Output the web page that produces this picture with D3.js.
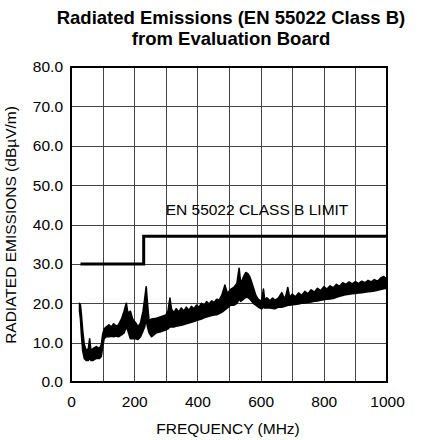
<!DOCTYPE html>
<html><head><meta charset="utf-8">
<script src="https://cdn.jsdelivr.net/npm/d3@7/dist/d3.min.js"></script>
<style>body{margin:0;background:#fff}svg{display:block}text{font-family:"Liberation Sans",Arial,sans-serif;fill:#000}</style>
</head><body><svg id="c" width="436" height="440"></svg>
<script>
const titleLines = ["Radiated Emissions (EN 55022 Class B)", "from Evaluation Board"];
const xTicks = [0, 200, 400, 600, 800, 1000];
const xGrid = [0,100,200,300,400,500,600,700,800,900,1000];
const yTicks = [0,10,20,30,40,50,60,70,80];
const xLabel = "FREQUENCY (MHz)";
const yLabel = "RADIATED EMISSIONS (dBµV/m)";
const limitLabel = "EN 55022 CLASS B LIMIT";
const limitFreq = [30, 230, 230, 1000];
const limitLevel = [30, 30, 37, 37];
const freq = [
  27,30,33,37,42,48,55,59,63,70,80,90,96,100,105,112,120,128,135,143,150,160,168,175,180,188,195,205,212,220,228,233,238,242,247,
  255,270,285,300,307,313,318,326,333,341,349,357,365,373,381,389,397,405,413,421,429,437,445,453,461,469,477,487,
  495,505,515,525,532,537,545,553,560,567,577,585,593,603,609,613,620,630,638,645,655,660,667,675,680,686,692,
  700,710,720,730,740,750,760,770,780,790,800,810,820,830,840,850,860,870,880,890,900,910,920,930,940,950,960,970,980,990,1000];
const emisLo = [
  18,16,12,8,6,5.5,5.5,6,5.5,5.5,6,6,6.5,9,11,11.5,11.5,11.6,11.5,11.7,11.5,12,12.5,14,13,11,11,11,10.8,11.5,13,14,16,14,12.5,
  11.5,12.5,12.8,13.2,13.5,14,14,14,14.2,14.3,14.4,14.6,14.8,15,15.2,15.4,15.6,15.8,16,16.3,16.5,16.7,16.9,17,17.1,17.4,17.7,18.3,
  18.8,19.5,19.5,20,21,20.5,21,21.5,21.5,21,20,19.5,19,18.6,19,18.8,18.8,18.8,18.7,18.6,19,19,19,19.2,19.3,19.5,19.5,
  19.6,19.7,19.8,20,20.1,20.2,20.3,20.5,20.6,20.8,20.9,21,21.1,21.2,21.5,21.8,22,22.2,22.3,22.4,22.5,22.6,22.7,22.8,22.9,23,23.1,23.3,23.5,23.7,23.8];
const emisHi = [
  20,19.5,17,13,9.5,8,8.5,11,8,8.5,9,8.5,9.5,12,13.5,14,14.5,14,14.8,14.2,14.5,16,18,20,17.5,18,16,15,14,15,18,21,24.2,20,15.5,
  16,16.2,16.6,17,18,21.3,18.5,17.6,18.6,17.8,18.8,18,19,18.2,19.2,18.6,19.5,19,20,19.4,20.4,19.8,20.6,20.2,21,20.8,22,24.6,
  22.5,23.5,24,25,28.9,25,26.5,27.8,27.5,26.5,24,22,21,20.5,23.6,20.8,21.4,20.6,21.3,20.8,21.2,21.8,22.7,21.2,21.9,24,21.5,
  22.3,21.6,22.6,22,23,22.4,23.4,22.8,23.8,23.2,24.2,23.6,24.4,23.9,24.8,24.3,25.2,24.8,25.4,24.9,25.5,25,25.6,25.2,25.8,25.4,26,25.6,26.4,26.8,26];

const svg = d3.select("#c");
const L=71,R=387,T=67,B=382;
const x = d3.scaleLinear().domain([0,1000]).range([L,R]);
const y = d3.scaleLinear().domain([0,80]).range([B,T]);

svg.selectAll("text.title").data(titleLines).enter().append("text")
  .attr("class","title")
  .attr("x",231).attr("y",(d,i)=>24+i*21).attr("text-anchor","middle")
  .style("font-weight","bold").style("font-size","18.5px").text(d=>d);

const g = svg.append("g");
g.selectAll("line.vg").data(xGrid).enter().append("line")
  .attr("x1",d=>Math.round(x(d))+0.5).attr("x2",d=>Math.round(x(d))+0.5).attr("y1",T).attr("y2",B)
  .attr("stroke","#444").attr("stroke-width",1);
g.selectAll("line.hg").data(yTicks).enter().append("line")
  .attr("y1",d=>Math.round(y(d))+0.5).attr("y2",d=>Math.round(y(d))+0.5).attr("x1",L).attr("x2",R)
  .attr("stroke","#444").attr("stroke-width",1);

const pts = freq.map((f,i)=>({f,lo:emisLo[i],hi:emisHi[i]}));
g.append("path").datum(pts)
  .attr("d",d3.area().x(d=>x(d.f)).y0(d=>y(d.lo)).y1(d=>y(d.hi)))
  .attr("fill","#000").attr("stroke","#000").attr("stroke-width",1.6).attr("stroke-linejoin","round");

const lim = limitFreq.map((f,i)=>[f,limitLevel[i]]);
g.append("path").datum(lim).attr("d",d3.line().x(d=>x(d[0])).y(d=>y(d[1])))
  .attr("fill","none").attr("stroke","#000").attr("stroke-width",3);

g.append("text").attr("x",257).attr("y",215).attr("text-anchor","middle").style("font-size","15.5px").text(limitLabel);

g.append("rect").attr("x",L).attr("y",T).attr("width",R-L).attr("height",B-T)
  .attr("fill","none").attr("stroke","#000").attr("stroke-width",2);

const xa = svg.append("g").attr("transform",`translate(0,${B})`)
  .call(d3.axisBottom(x).tickValues(xTicks).tickSize(0).tickPadding(14).tickFormat(d3.format("d")));
xa.select(".domain").remove();
xa.selectAll("text").style("font-size","15.5px").style("font-family","Liberation Sans, Arial, sans-serif");

const ya = svg.append("g").attr("transform",`translate(${L},0)`)
  .call(d3.axisLeft(y).tickValues(yTicks).tickSize(0).tickPadding(8).tickFormat(d3.format(".1f")));
ya.select(".domain").remove();
ya.selectAll("text").style("font-size","15.5px").style("font-family","Liberation Sans, Arial, sans-serif");

svg.append("text").attr("x",228).attr("y",434).attr("text-anchor","middle").style("font-size","15.5px").text(xLabel);
svg.append("text").attr("transform","translate(16,225) rotate(-90)").attr("text-anchor","middle").style("font-size","15.5px").text(yLabel);
</script></body></html>
